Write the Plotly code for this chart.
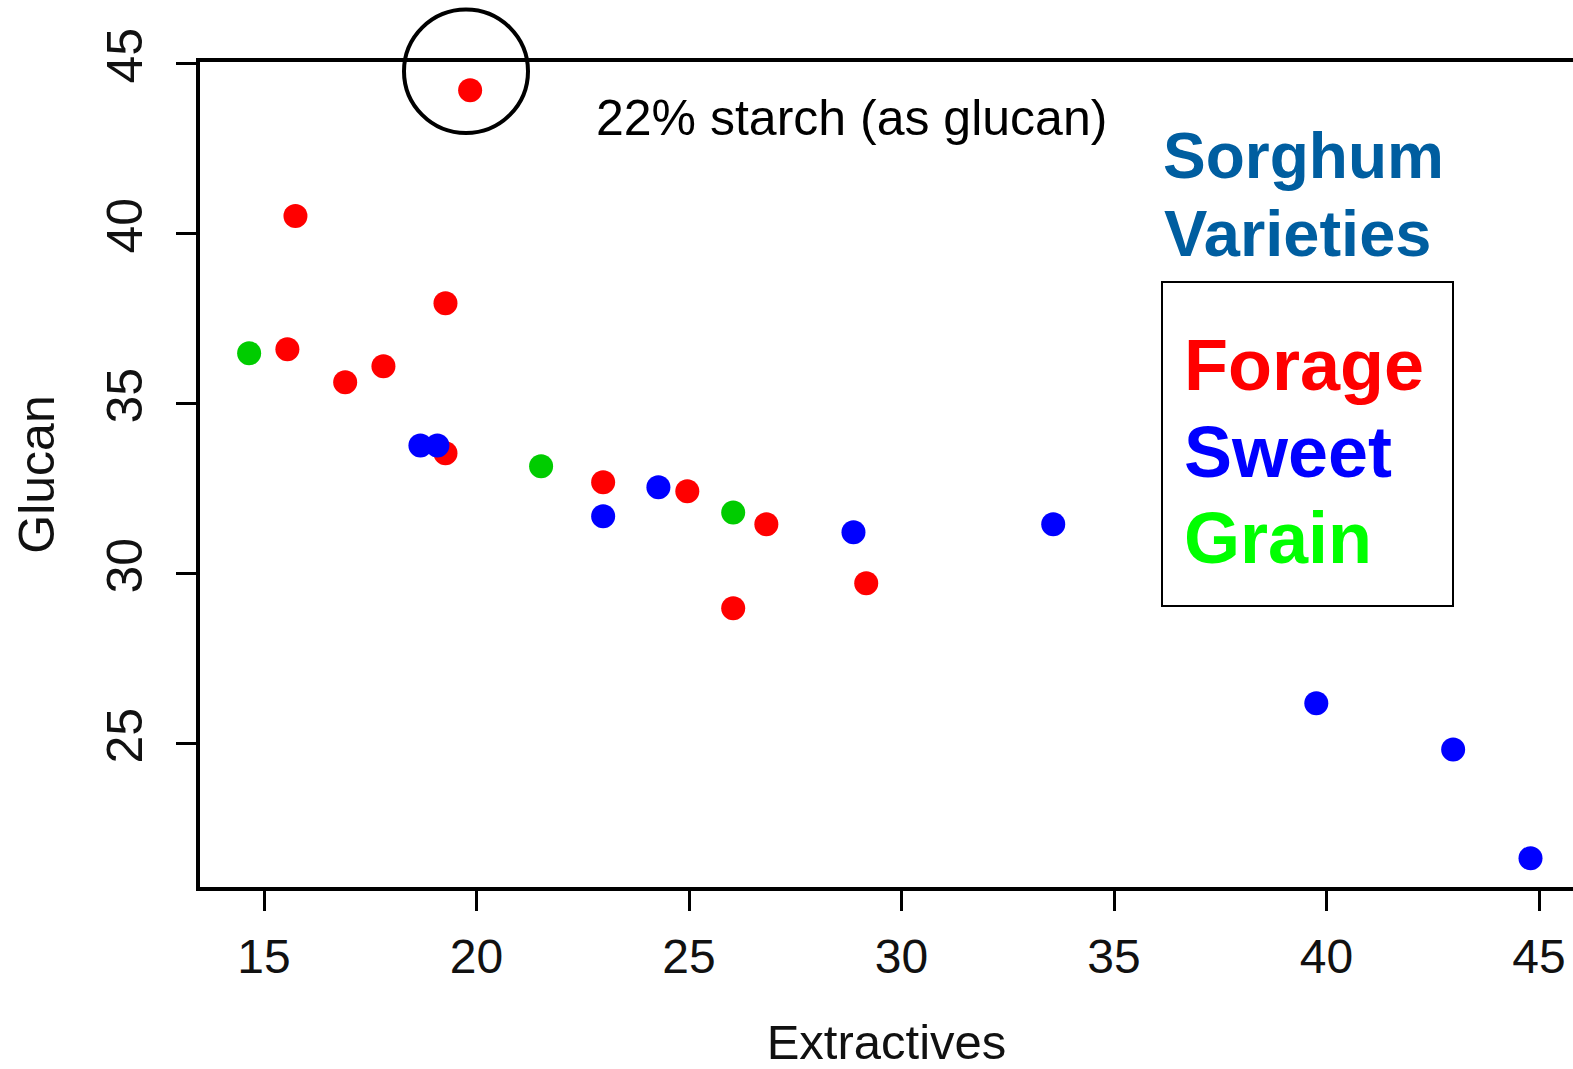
import plotly.graph_objects as go

# ---- data ----
forage_x = [19.85, 15.74, 19.27, 15.55, 16.91, 17.81, 19.27, 22.98, 24.96, 26.82, 26.04, 29.17]
forage_y = [44.21, 40.51, 37.94, 36.59, 35.62, 36.09, 33.53, 32.68, 32.41, 31.44, 28.97, 29.71]
sweet_x = [18.68, 19.08, 22.98, 24.28, 28.87, 33.57, 39.76, 42.98, 44.80]
sweet_y = [33.76, 33.76, 31.68, 32.53, 31.21, 31.44, 26.18, 24.82, 21.62]
grain_x = [14.65, 21.52, 26.04]
grain_y = [36.47, 33.15, 31.79]
x_ticks = [15, 20, 25, 30, 35, 40, 45]
y_ticks = [25, 30, 35, 40, 45]
legend_labels = ["Forage", "Sweet", "Grain"]
legend_colors = ["#FF0000", "#0000FF", "#00FF00"]

# ---- layout geometry ----
W, H = 1573, 1069
ML, MT, MB, MR = 200, 62, 182, 0
X_RANGE = [13.494, 45.8]
Y_RANGE = [20.774, 45.038]
PW = W - ML - MR
PH = H - MT - MB


def px(x):
    return (x - ML) / PW


def py(y):
    return (H - MB - y) / PH


SANS = "Liberation Sans, Arial, sans-serif"

fig = go.Figure()
fig.add_trace(go.Scatter(x=forage_x, y=forage_y, mode="markers", name="Forage",
                         marker=dict(color="#FF0000", size=24, line=dict(width=0))))
fig.add_trace(go.Scatter(x=grain_x, y=grain_y, mode="markers", name="Grain",
                         marker=dict(color="#00CC00", size=24, line=dict(width=0))))
fig.add_trace(go.Scatter(x=sweet_x, y=sweet_y, mode="markers", name="Sweet",
                         marker=dict(color="#0000FF", size=24, line=dict(width=0))))

axis_common = dict(showgrid=False, zeroline=False, showline=True, linecolor="black",
                   linewidth=4, ticks="outside", ticklen=20, tickwidth=3, tickcolor="black",
                   automargin=False)

fig.update_xaxes(range=X_RANGE, tickvals=x_ticks, ticktext=[str(v) for v in x_ticks],
                 mirror=True, ticklabelstandoff=4,
                 tickfont=dict(family=SANS, size=48, color="#111111"),
                 title=dict(text="Extractives", font=dict(family=SANS, size=49, color="#111111"),
                            standoff=57),
                 **axis_common)
fig.update_yaxes(range=Y_RANGE, tickvals=y_ticks, ticktext=[str(v) for v in y_ticks],
                 tickangle=-90, ticklabelstandoff=14,
                 tickfont=dict(family=SANS, size=50, color="#111111"),
                 title=dict(text="Glucan", font=dict(family=SANS, size=50, color="#111111"),
                            standoff=28),
                 **axis_common)

annotations = [
    dict(text="22% starch (as glucan)", x=px(851), y=py(88), xref="paper", yref="paper",
         xanchor="center", yanchor="top", showarrow=False,
         font=dict(family=SANS, size=50, color="black")),
    dict(text="<b>Sorghum</b>", x=px(1161), y=py(118), xref="paper", yref="paper",
         xanchor="left", yanchor="top", showarrow=False,
         font=dict(family=SANS, size=64, color="#005EA0")),
    dict(text="<b>Varieties</b>", x=px(1162), y=py(195), xref="paper", yref="paper",
         xanchor="left", yanchor="top", showarrow=False,
         font=dict(family=SANS, size=65, color="#005EA0")),
]
legend_tops = [323, 409.5, 496]
for lab, col, top in zip(legend_labels, legend_colors, legend_tops):
    annotations.append(dict(text="<b>%s</b>" % lab, x=px(1182), y=py(top), xref="paper",
                            yref="paper", xanchor="left", yanchor="top", showarrow=False,
                            font=dict(family=SANS, size=72, color=col)))

shapes = [
    # legend box
    dict(type="rect", xref="paper", yref="paper", x0=px(1162), x1=px(1453),
         y0=py(606), y1=py(282), line=dict(color="black", width=2)),
    # circle highlighting the high-starch forage sample
    dict(type="circle", xref="paper", yref="paper", x0=px(404), x1=px(528),
         y0=py(133), y1=py(9.5), line=dict(color="black", width=4)),
]

fig.update_layout(width=W, height=H, margin=dict(l=ML, r=MR, t=MT, b=MB),
                  paper_bgcolor="white", plot_bgcolor="white", showlegend=False,
                  annotations=annotations, shapes=shapes)

fig.write_html("out.html")
